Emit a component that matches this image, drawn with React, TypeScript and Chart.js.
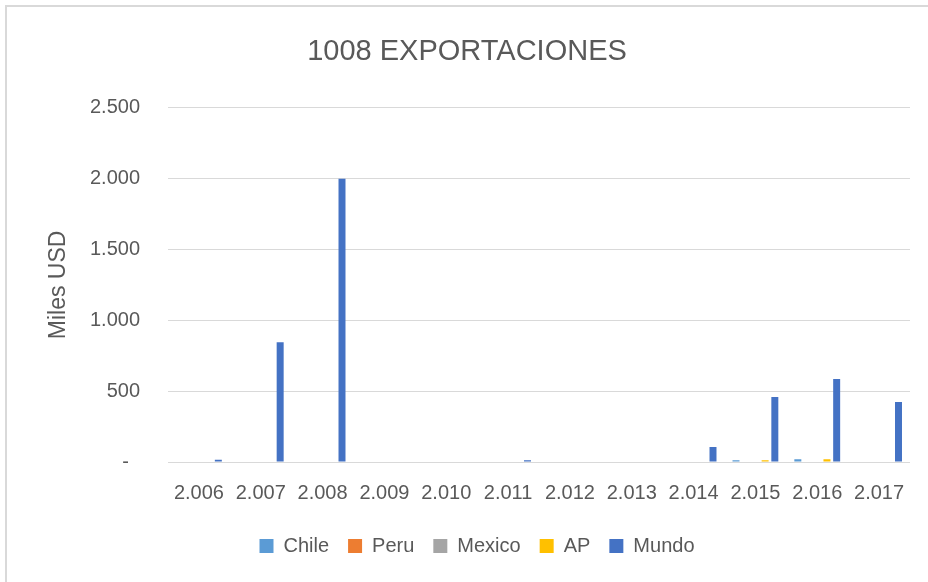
import React, { useEffect, useRef } from "react";
import { Chart, registerables } from "chart.js";

Chart.register(...registerables);

const categories = ["2.006", "2.007", "2.008", "2.009", "2.010", "2.011", "2.012", "2.013", "2.014", "2.015", "2.016", "2.017"];
const chile = [0, 0, 0, 0, 0, 0, 0, 0, 0, 12, 20, 0];
const peru = [0, 0, 0, 0, 0, 0, 0, 0, 0, 0, 0, 0];
const mexico = [0, 0, 0, 0, 0, 0, 0, 0, 0, 0, 0, 0];
const ap = [0, 0, 0, 0, 0, 0, 0, 0, 0, 12, 20, 0];
const mundo = [15, 845, 2000, 0, 0, 12, 0, 0, 106, 458, 585, 423];
const yTicks = [0, 500, 1000, 1500, 2000, 2500];

const FONT = "'Liberation Sans', Arial, sans-serif";
const GRAY = "#595959";

function fmt(v: number): string {
  if (v === 0) return "-  ";
  const s = String(Math.round(v));
  return s.replace(/\B(?=(\d{3})+(?!\d))/g, ".");
}

const blockShift = {
  id: "blockShift",
  afterLayout(chart: any) {
    if (chart.legend) {
      chart.legend.left += 22;
      chart.legend.right += 22;
    }
    if (chart.titleBlock) {
      chart.titleBlock.left += 12;
      chart.titleBlock.right += 12;
    }
  },
};

export default function App() {
  const ref = useRef<HTMLCanvasElement>(null);
  useEffect(() => {
    if (!ref.current) return;
    const chart = new Chart(ref.current, {
      type: "bar",
      data: {
        labels: categories,
        datasets: [
          { label: "Chile", data: chile, backgroundColor: "#5B9BD5" },
          { label: "Peru", data: peru, backgroundColor: "#ED7D31" },
          { label: "Mexico", data: mexico, backgroundColor: "#A5A5A5" },
          { label: "AP", data: ap, backgroundColor: "#FFC000" },
          { label: "Mundo", data: mundo, backgroundColor: "#4472C4" },
        ],
      },
      plugins: [blockShift],
      options: {
        animation: false,
        responsive: false,
        maintainAspectRatio: false,
        datasets: { bar: { categoryPercentage: 0.785, barPercentage: 0.72 } },
        layout: { padding: { left: 0, right: 18, top: 0, bottom: 16 } },
        plugins: {
          title: {
            display: true,
            text: "1008 EXPORTACIONES",
            color: GRAY,
            font: { family: FONT, size: 29, weight: "normal" },
            padding: { top: 35, bottom: 38 },
          },
          legend: {
            position: "bottom",
            labels: {
              color: GRAY,
              font: { family: FONT, size: 20 },
              boxWidth: 14,
              boxHeight: 14,
              padding: 19,
            },
          },
          tooltip: { enabled: false },
        },
        scales: {
          x: {
            grid: { display: false },
            border: { display: false },
            ticks: {
              color: GRAY,
              font: { family: FONT, size: 20 },
              padding: 11,
              maxRotation: 0,
              autoSkip: false,
            },
            afterFit: (s: any) => {
              s.height = 55;
            },
          },
          y: {
            min: 0,
            max: 2500,
            afterBuildTicks: (s: any) => {
              s.ticks = yTicks.map((v) => ({ value: v }));
            },
            grid: { color: "#d9d9d9", drawTicks: false, lineWidth: 1 },
            border: { display: false },
            ticks: {
              color: GRAY,
              font: { family: FONT, size: 20 },
              padding: 28,
              callback: (v: any) => fmt(Number(v)),
            },
            title: {
              display: true,
              text: "Miles USD",
              color: GRAY,
              font: { family: FONT, size: 23, weight: "normal" },
              padding: { top: 45, bottom: 0 },
            },
            afterFit: (s: any) => {
              s.width = 168;
            },
          },
        },
      },
    });
    return () => chart.destroy();
  }, []);
  return (
    <div style={{ position: "fixed", left: 0, top: 0, width: 928, height: 582, background: "#fff" }}>
      <canvas ref={ref} width={928} height={582} style={{ position: "absolute", left: 0, top: 0 }} />
      <div
        style={{
          position: "absolute",
          left: 5,
          top: 5,
          right: 0,
          bottom: 0,
          borderLeft: "2px solid #d9d9d9",
          borderTop: "2px solid #d9d9d9",
          pointerEvents: "none",
        }}
      />
    </div>
  );
}
